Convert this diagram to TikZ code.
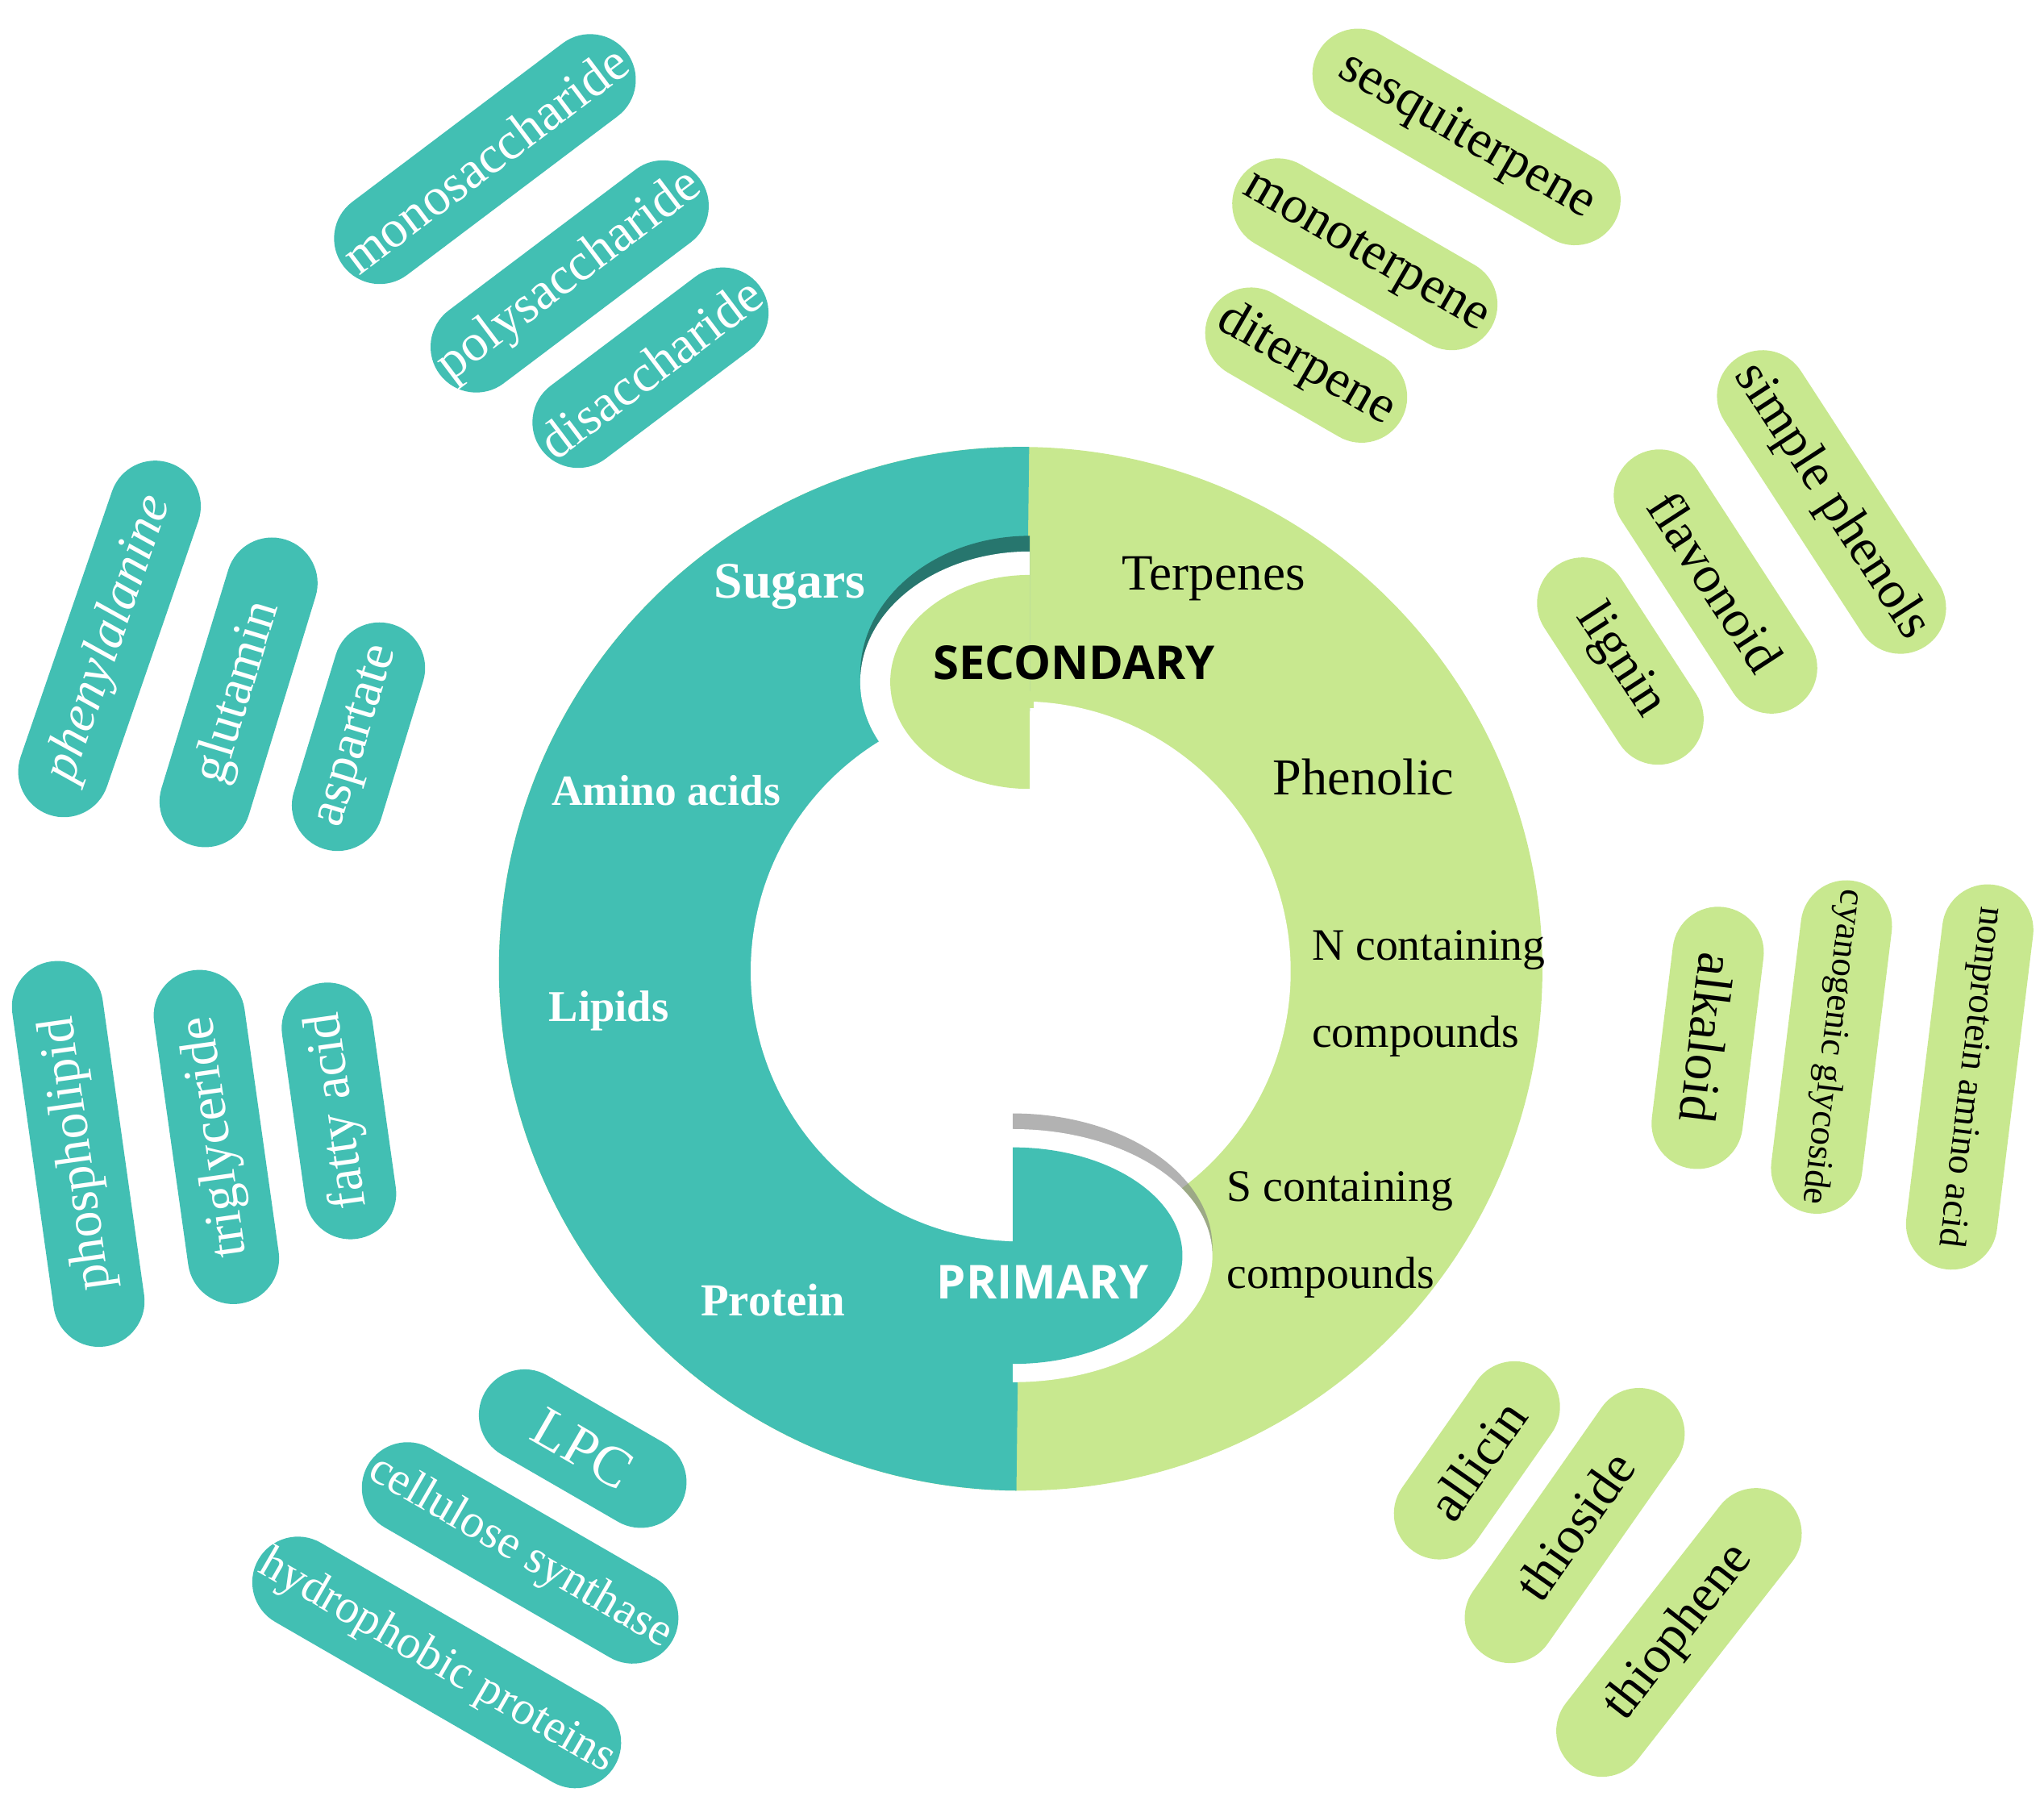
\documentclass[tikz,border=0pt]{standalone}
\usepackage{fontspec}
\setmainfont{Liberation Serif}
\newfontfamily\hsans{Open Sans}
\definecolor{teal1}{HTML}{42BFB3}
\definecolor{green1}{HTML}{C8E88F}
\definecolor{dteal}{HTML}{27766E}
\begin{document}
\begin{tikzpicture}[x=0.01cm,y=-0.01cm,
  pill/.style={rectangle,rounded corners=0.35cm,minimum height=0.70cm,inner sep=1pt,font=\fontsize{11.5}{14}\selectfont},
  tp/.style={pill,fill=teal1,text=white},
  gp/.style={pill,fill=green1,text=black},
  wlab/.style={text=white,font=\bfseries\fontsize{10}{12}\selectfont},
  blab/.style={text=black,font=\fontsize{10}{12}\selectfont,align=left}]
\useasboundingbox (0,0) rectangle (1568,1390);
% ring
\fill[green1] (783,743) circle (4.0cm);
\begin{scope}
\clip (790,300)--(779,1200)--(300,1200)--(300,300)--cycle;
\fill[teal1] (783,743) circle (4.0cm);
\end{scope}
\fill[white] (783,745) circle (2.07cm);
% secondary blob
\begin{scope}
\clip (500,380) rectangle (790,545);
\fill[dteal] (790,517) ellipse [x radius=1.30cm, y radius=1.06cm];
\end{scope}
\begin{scope}
\clip (500,380) rectangle (790,700);
\fill[white] (790,523) ellipse [x radius=1.30cm, y radius=1.00cm];
\fill[green1] (790,523) ellipse [x radius=1.07cm, y radius=0.82cm];
\end{scope}
\fill[green1] (786,530) rectangle (793,543);
% primary blob
\begin{scope}
\clip (777,840) rectangle (1000,960);
\fill[gray,opacity=0.6] (777,957) ellipse [x radius=1.53cm, y radius=1.03cm];
\end{scope}
\begin{scope}
\clip (777,840) rectangle (1000,1100);
\fill[white] (777,963) ellipse [x radius=1.53cm, y radius=0.97cm];
\fill[teal1] (777,963) ellipse [x radius=1.30cm, y radius=0.83cm];
\end{scope}
% ring labels
\node[wlab,font=\bfseries\fontsize{11.2}{13}\selectfont] (sug) at (606,450) {Sugars};
\node[wlab,font=\bfseries\fontsize{9.4}{11}\selectfont] (ami) at (511,606) {Amino acids};
\node[wlab,font=\bfseries\fontsize{9.6}{11}\selectfont] (lip) at (467,775) {Lipids};
\node[wlab] (pro) at (593,997) {Protein};
\node[blab,font=\fontsize{11.1}{13}\selectfont] (ter) at (931,444) {Terpenes};
\node[blab,font=\fontsize{11.3}{13}\selectfont] (phe) at (1046,596) {Phenolic};
\node[blab,font=\fontsize{9.8}{19}\selectfont] (ncc) at (1096,762) {N containing\\compounds};
\node[blab,font=\fontsize{9.8}{19}\selectfont] (scc) at (1028,947) {S containing\\compounds};
\node[font=\hsans\bfseries\fontsize{10.2}{12}\selectfont] (sec) at (824,508) {SECONDARY};
\node[text=white,font=\hsans\bfseries\fontsize{10.2}{12}\selectfont] (pri) at (800,983) {PRIMARY};
% teal pills
\node[tp,minimum width=2.72cm,rotate=37] (p1) at (372,122) {monosaccharide};
\node[tp,minimum width=2.24cm,rotate=37] (p2) at (437,212) {polysaccharide};
\node[tp,minimum width=1.70cm,rotate=37] (p3) at (499,282) {disaccharide};
\node[tp,minimum width=2.85cm,rotate=71,font=\itshape\fontsize{11.5}{14}\selectfont] (p4) at (84,490) {phenylalanine};
\node[tp,minimum width=2.45cm,rotate=73] (p5) at (183,531) {glutamin};
\node[tp,minimum width=1.80cm,rotate=73] (p6) at (275,565) {aspartate};
\node[tp,minimum width=2.98cm,rotate=98] (p7) at (60,885) {phospholipid};
\node[tp,minimum width=2.58cm,rotate=98] (p8) at (166,872) {triglyceride};
\node[tp,minimum width=1.98cm,rotate=98] (p9) at (260,852) {fatty acid};
\node[tp,minimum width=1.73cm,rotate=-30,font=\fontsize{12.5}{15}\selectfont] (p10) at (447,1111) {LPC};
\node[tp,minimum width=2.26cm,rotate=-30,font=\fontsize{10.3}{13}\selectfont] (p11) at (399,1191) {cellulose synthase};
\node[tp,minimum width=2.60cm,rotate=-30,font=\fontsize{10.3}{13}\selectfont] (p12) at (335,1275) {hydrophobic proteins};
% green pills
\node[gp,minimum width=2.62cm,rotate=-30] (g1) at (1125,105) {sesquiterpene};
\node[gp,minimum width=2.24cm,rotate=-30] (g2) at (1047,195) {monoterpene};
\node[gp,minimum width=1.68cm,rotate=-30] (g3) at (1002,280) {diterpene};
\node[gp,minimum width=2.64cm,rotate=-57] (g4) at (1405,385) {simple phenols};
\node[gp,minimum width=2.28cm,rotate=-57] (g5) at (1316,446) {flavonoid};
\node[gp,minimum width=1.76cm,rotate=-57] (g6) at (1243,507) {lignin};
\node[gp,minimum width=2.02cm,rotate=-97] (g7) at (1310,796) {alkaloid};
\node[gp,minimum width=2.57cm,rotate=-97,font=\fontsize{8}{10}\selectfont] (g8) at (1405,803) {cyanogenic glycoside};
\node[gp,minimum width=2.97cm,rotate=-97,font=\fontsize{8.3}{10}\selectfont] (g9) at (1511,826) {nonprotein amino acid};
\node[gp,minimum width=1.70cm,rotate=55] (g10) at (1133,1120) {allicin};
\node[gp,minimum width=2.42cm,rotate=55] (g11) at (1208,1170) {thioside};
\node[gp,minimum width=2.62cm,rotate=52] (g12) at (1288,1252) {thiophene};
\end{tikzpicture}
\end{document}
